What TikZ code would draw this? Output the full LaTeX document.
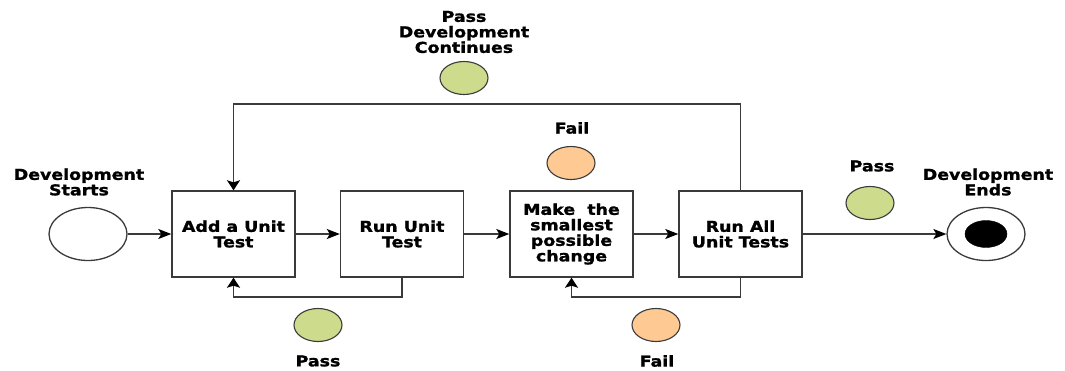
\documentclass[tikz,border=0pt]{standalone}
\usepackage{fontspec}
\newfontfamily\lblfont{DejaVu Sans Bold}[FakeStretch=1.16,FakeBold=1.3]
\usetikzlibrary{arrows.meta,shapes.geometric}
\definecolor{linec}{HTML}{3A3A3A}
\definecolor{passg}{HTML}{CDDC8C}
\definecolor{failo}{HTML}{FFC993}
\tikzset{
  lbl/.style={font=\lblfont\fontsize{15}{15.5}\selectfont, align=center, inner sep=0pt},
  stepbox/.style={draw=linec, line width=1.4pt, rectangle, minimum width=123pt, minimum height=86pt, inner sep=0pt, lbl},
  dot/.style={draw=linec, line width=1.1pt, ellipse, minimum width=48pt, minimum height=33pt, inner sep=0pt},
  term/.style={draw=linec, line width=1.3pt, ellipse, minimum width=78pt, minimum height=53pt, inner sep=0pt, fill=white},
  harr/.style={draw=linec, line width=1.4pt, -{Stealth[length=13pt,width=10pt,inset=3pt,fill=black,color=black]}},
  varr/.style={draw=linec, line width=1.4pt, -{Stealth[length=10pt,width=13pt,inset=2pt,fill=black,color=black]}},
}
\begin{document}
\begin{tikzpicture}[x=1pt,y=-1pt]
\useasboundingbox (0,0) rectangle (1065,370);
% terminals
\node[term] (start) at (88,234) {};
\node[term] (end) at (986,234) {};
\node[draw=black, fill=black, ellipse, minimum width=42pt, minimum height=27pt, inner sep=0pt] (endin) at (end.center) {};
% boxes
\node[stepbox] (b1) at (233.5,234) {Add a Unit\\Test};
\node[stepbox] (b2) at (402,234) {Run Unit\\Test};
\node[stepbox] (b3) at (571.5,234) {Make~ the\\smallest\\possible\\change};
\node[stepbox] (b4) at (740.5,234) {Run All\\Unit Tests};
% labels
\node[lbl] (lstart) at (79,182) {Development\\Starts};
\node[lbl] (lend) at (988,182) {Development\\Ends};
\node[lbl] (ltop) at (464,32) {Pass\\Development\\Continues};
\node[lbl] (lfail1) at (572,128) {Fail};
\node[lbl] (lpass2) at (872,166) {Pass};
\node[lbl] (lpass3) at (318,361) {Pass};
\node[lbl] (lfail2) at (657,361) {Fail};
% status dots
\node[dot, fill=passg] (dtop) at (464,78) {};
\node[dot, fill=failo] (dfail1) at (571,163) {};
\node[dot, fill=passg] (dpass2) at (870,203) {};
\node[dot, fill=passg] (dpass3) at (318,325) {};
\node[dot, fill=failo] (dfail2) at (656,325) {};
% connectors
\coordinate (topL) at (233.5,104);
\coordinate (bl1) at (233.5,297);
\coordinate (bl2) at (571.5,297);
\draw[harr] (start.east) -- (b1.west);
\draw[harr] (b1.east) -- (b2.west);
\draw[harr] (b2.east) -- (b3.west);
\draw[harr] (b3.east) -- (b4.west);
\draw[harr] (b4.east) -- (end.west);
\draw[varr] (b4.north) |- (topL) -- (b1.north);
\draw[varr] (b2.south) |- (bl1) -- (b1.south);
\draw[varr] (b4.south) |- (bl2) -- (b3.south);
\end{tikzpicture}
\end{document}
